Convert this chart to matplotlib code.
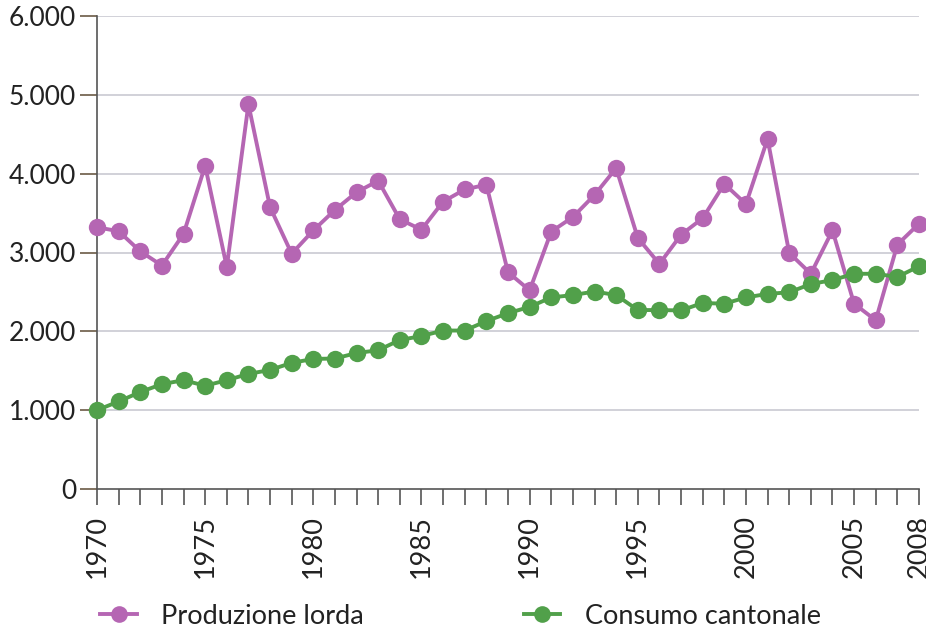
import matplotlib
matplotlib.use("Agg")
import matplotlib.pyplot as plt
from matplotlib.ticker import FuncFormatter
from matplotlib.lines import Line2D

plt.rcParams['font.family'] = ['Lato', 'DejaVu Sans']

years = list(range(1970, 2009))
produzione = [3320, 3270, 3015, 2835, 3235, 4100, 2815, 4880, 3575, 2985,
              3280, 3540, 3765, 3910, 3420, 3290, 3645, 3800, 3860, 2750,
              2520, 3265, 3450, 3730, 4070, 3185, 2855, 3225, 3435, 3870,
              3615, 4440, 2995, 2730, 3280, 2350, 2140, 3100, 3365]
consumo = [1000, 1110, 1230, 1330, 1380, 1310, 1380, 1460, 1510, 1600,
           1650, 1655, 1725, 1760, 1890, 1940, 2010, 2010, 2130, 2230,
           2310, 2430, 2460, 2505, 2460, 2270, 2270, 2265, 2360, 2350,
           2430, 2475, 2495, 2600, 2650, 2730, 2730, 2690, 2825]
xlabels_years = [1970, 1975, 1980, 1985, 1990, 1995, 2000, 2005, 2008]
yticks = [0, 1000, 2000, 3000, 4000, 5000, 6000]
series_names = ["Produzione lorda", "Consumo cantonale"]

purple = "#b566b3"
green = "#51a04a"

fig = plt.figure(figsize=(9.26, 6.34), dpi=100)
ax = fig.add_axes([97/926, 1 - 489/634, (919-97)/926, (489-16)/634])

for yv in yticks[1:]:
    ax.axhline(yv, color="#c9c9d2", lw=1.2, zorder=0)

ax.plot(years, produzione, color=purple, lw=2.8, marker='o', ms=12.5,
        markeredgewidth=0, zorder=3, clip_on=False)
ax.plot(years, consumo, color=green, lw=2.8, marker='o', ms=12.5,
        markeredgewidth=0, zorder=3, clip_on=False)

ax.set_xlim(1970, 2008)
ax.set_ylim(0, 6000)
ax.set_yticks(yticks)
ax.yaxis.set_major_formatter(FuncFormatter(lambda v, p: f"{int(v):,}".replace(",", ".")))
ax.set_xticks(xlabels_years)
ax.set_xticklabels([str(y) for y in xlabels_years], rotation=90)
ax.set_xticks(years, minor=True)

for s in ['top', 'right']:
    ax.spines[s].set_visible(False)
ax.spines['left'].set_color("#555555")
ax.spines['bottom'].set_color("#555555")
ax.spines['left'].set_linewidth(1.2)
ax.spines['bottom'].set_linewidth(1.2)

ax.tick_params(axis='y', which='major', length=12, width=1.2, color="#6b5a45",
               labelsize=19, pad=3, labelcolor="#222222")
ax.tick_params(axis='x', which='both', length=11.5, width=1.2, color="#555555",
               direction='out')
ax.tick_params(axis='x', which='major', labelsize=19.5, pad=7, labelcolor="#222222")

handles = [Line2D([0], [0], color=purple, lw=2.8, marker='o', ms=12, markeredgewidth=0),
           Line2D([0], [0], color=green, lw=2.8, marker='o', ms=12, markeredgewidth=0)]
fig.legend(handles, series_names, loc='center left', bbox_to_anchor=(76/926, 1 - 616/634),
           ncol=2, frameon=False, fontsize=19.5, handlelength=1.35, handletextpad=0.9,
           columnspacing=5.9, labelcolor="#222222")

fig.savefig("out.png", dpi=100, facecolor="white")
